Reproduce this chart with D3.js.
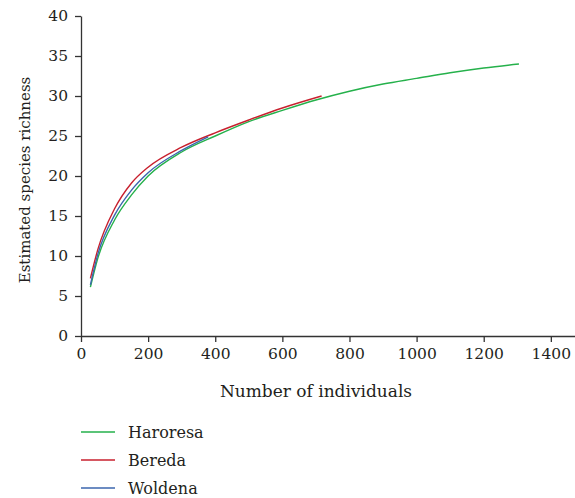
<!DOCTYPE html>
<html>
<head>
<meta charset="UTF-8" />
<script src="https://cdn.jsdelivr.net/npm/d3@7"></script>
<style>
  body { margin: 0; background: #fff; }
  text { font-family: "DejaVu Serif", "Liberation Serif", serif; fill: #231f20; }
</style>
</head>
<body>
<script>
// rarefaction curves
var haroresaN = [28, 50, 100, 150, 200, 300, 400, 500, 600, 700, 800, 900, 1000, 1100, 1200, 1305];
var haroresaS = [6.1, 9.7, 14.5, 17.6, 20.0, 23.0, 25.0, 26.8, 28.2, 29.5, 30.6, 31.5, 32.2, 32.9, 33.5, 34.0];
var beredaN = [28, 50, 100, 150, 200, 300, 400, 500, 600, 717];
var beredaS = [7.2, 10.8, 15.9, 19.1, 21.1, 23.6, 25.4, 27.0, 28.5, 30.0];
var woldenaN = [28, 50, 100, 150, 200, 300, 379];
var woldenaS = [6.4, 10.2, 15.1, 18.2, 20.4, 23.2, 24.9];

var xTicks = [0, 200, 400, 600, 800, 1000, 1200, 1400];
var yTicks = [0, 5, 10, 15, 20, 25, 30, 35, 40];

var series = [
  { name: "Haroresa", n: haroresaN, s: haroresaS, color: "#25b14b" },
  { name: "Bereda", n: beredaN, s: beredaS, color: "#c8202e" },
  { name: "Woldena", n: woldenaN, s: woldenaS, color: "#3b66ae" }
];

var svg = d3.select("body").append("svg").attr("width", 575).attr("height", 498);

var x = d3.scaleLinear().domain([0, 1472]).range([81, 575]);
var y = d3.scaleLinear().domain([0, 40]).range([336, 16]);

var xAxis = svg.append("g")
  .attr("transform", "translate(0,336)")
  .call(d3.axisBottom(x).tickValues(xTicks).tickFormat(d3.format("d"))
    .tickSize(6).tickSizeOuter(0).tickPadding(6));
var yAxis = svg.append("g")
  .attr("transform", "translate(81,0)")
  .call(d3.axisLeft(y).tickValues(yTicks).tickSize(6).tickSizeOuter(0).tickPadding(7));

[xAxis, yAxis].forEach(function (g) {
  g.selectAll("path, line").attr("stroke", "#333").attr("stroke-width", 1.3);
  g.selectAll("text").style("font-size", "15.5px").attr("fill", "#231f20");
});

svg.append("text")
  .attr("x", 316).attr("y", 397)
  .attr("text-anchor", "middle")
  .style("font-size", "17px")
  .text("Number of individuals");

svg.append("text")
  .attr("transform", "translate(30,180) rotate(-90)")
  .attr("text-anchor", "middle")
  .style("font-size", "15px")
  .text("Estimated species richness");

var line = d3.line()
  .x(function (d) { return x(d[0]); })
  .y(function (d) { return y(d[1]); })
  .curve(d3.curveMonotoneX);

// draw green first so red and blue sit on top
series.forEach(function (sr) {
  svg.append("path")
    .datum(sr.n.map(function (v, i) { return [v, sr.s[i]]; }))
    .attr("fill", "none")
    .attr("stroke", sr.color)
    .attr("stroke-width", 1.4)
    .attr("d", line);
});

var legend = svg.append("g");
series.forEach(function (sr, i) {
  var ly = 432 + i * 28;
  legend.append("line")
    .attr("x1", 81).attr("x2", 115)
    .attr("y1", ly).attr("y2", ly)
    .attr("stroke", sr.color).attr("stroke-width", 1.6);
  legend.append("text")
    .attr("x", 128).attr("y", ly + 6)
    .style("font-size", "16px")
    .text(sr.name);
});
</script>
</body>
</html>
